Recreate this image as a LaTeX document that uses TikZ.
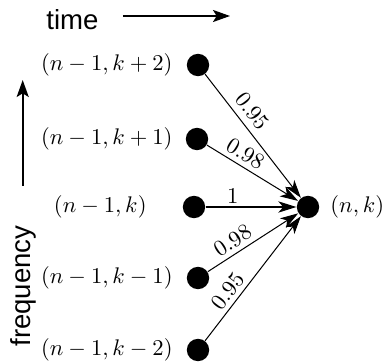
\documentclass[tikz,border=0pt]{standalone}
\usepackage{fontspec}
\newfontfamily\axisfont{Liberation Sans}
\usetikzlibrary{arrows.meta}
\begin{document}
\begin{tikzpicture}[x=0.4425pt,y=-0.4425pt,
  dot/.style={circle,fill=black,inner sep=0pt,minimum size=9.9pt},
  edge/.style={line width=0.45pt,-{Stealth[length=8pt,width=5pt,inset=2.2pt]}},
  axis/.style={line width=0.9pt,-{Stealth[length=7.5pt,width=5.3pt,inset=1.6pt]}},
  lbl/.style={above,sloped,inner sep=2.2pt},
  axislbl/.style={font=\axisfont\fontsize{12.2}{14}\selectfont,inner sep=0pt}]
\useasboundingbox (0,0) rectangle (384,364);
% dots
\node[dot] (a2) at (198,65) {};
\node[dot] (a1) at (197,139) {};
\node[dot] (a0) at (194,207) {};
\node[dot] (b1) at (198,278) {};
\node[dot] (b2) at (198,350) {};
\node[dot] (t) at (308,207) {};
% labels
\node[anchor=east,inner sep=0pt] (la2) at (173,65) {$(n-1,k+2)$};
\node[anchor=east,inner sep=0pt] (la1) at (173,139) {$(n-1,k+1)$};
\node[anchor=east,inner sep=0pt] (la0) at (147,207) {$(n-1,k)$};
\node[anchor=east,inner sep=0pt] (lb1) at (173,278) {$(n-1,k-1)$};
\node[anchor=east,inner sep=0pt] (lb2) at (173,350) {$(n-1,k-2)$};
\node[anchor=west,inner sep=0pt] (lt) at (330,207) {$(n,k)$};
% edges
\draw[edge] (a2) -- node[lbl,pos=0.37,inner sep=3pt] {$0.95$} (t);
\draw[edge] (a1) -- node[lbl,pos=0.35] {$0.98$} (t);
\draw[edge] (a0) -- node[lbl,pos=0.30,inner sep=1.3pt] {$1$} (t);
\draw[edge] (b1) -- node[lbl,pos=0.35] {$0.98$} (t);
\draw[edge] (b2) -- node[lbl,pos=0.34] {$0.95$} (t);
% axes
\node[axislbl] (time) at (72.5,20) {time};
\coordinate (ts) at (123,16);
\coordinate (te) at (230,16);
\draw[axis] (ts) -- (te);
\node[axislbl,rotate=90,anchor=base] (freq) at (30,286) {frequency};
\coordinate (fs) at (22.7,186);
\coordinate (fe) at (22.7,80);
\draw[axis] (fs) -- (fe);
\end{tikzpicture}
\end{document}
